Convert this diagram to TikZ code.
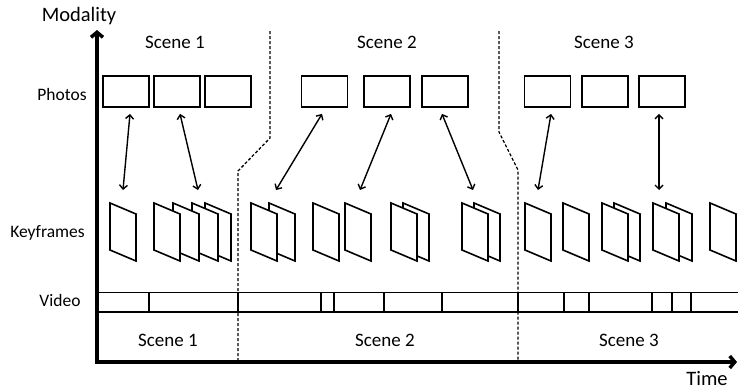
\documentclass[tikz,border=0pt]{standalone}
\usepackage{fontspec}
\setmainfont{Carlito}
\usetikzlibrary{arrows.meta}
\newcommand\keyfr[2]{\draw[kf] (#1,203) -- ++(26,11) -- ++(0,47) -- ++(-26,-11) -- cycle; \coordinate (#2) at (#1,203);}
\begin{document}
\begin{tikzpicture}[x=1pt,y=-1pt,
  photo/.style={draw,line width=1.8pt,minimum width=46pt,minimum height=31pt,inner sep=0pt},
  lbl/.style={inner sep=0pt,anchor=base,font=\fontsize{19}{22}\selectfont},
  axlbl/.style={inner sep=0pt,anchor=base,font=\fontsize{20.5}{23}\selectfont},
  rowlbl/.style={inner sep=0pt,anchor=base,font=\fontsize{17.5}{20}\selectfont},
  kf/.style={draw,fill=white,line width=1.6pt,line join=miter},
  link/.style={line width=1.4pt,{Straight Barb[length=4pt,width=8pt]}-{Straight Barb[length=4pt,width=8pt]}},
  axisline/.style={line width=3.5pt,line join=miter,{Straight Barb[length=5pt,width=12pt]}-{Straight Barb[length=5pt,width=12pt]}},
  divider/.style={line width=1.3pt,dash pattern=on 3pt off 2pt},
  vline/.style={line width=1.2pt}
]
\useasboundingbox (0,0) rectangle (739,389);

% dividers
\draw[divider] (270,31) -- (270,138) -- (238,171) -- (238,362);
\draw[divider] (499,31) -- (499,132) -- (518,170) -- (518,362);

% labels
\node[axlbl] (modality) at (79,21) {Modality};
\node[axlbl] (time) at (707,385) {Time};
\node[lbl] (s1t) at (175,48) {Scene 1};
\node[lbl] (s2t) at (387,48) {Scene 2};
\node[lbl] (s3t) at (604,48) {Scene 3};
\node[lbl] (s1b) at (168,346) {Scene 1};
\node[lbl] (s2b) at (385,346) {Scene 2};
\node[lbl] (s3b) at (629,346) {Scene 3};
\node[rowlbl] (lphotos) at (62,100) {Photos};
\node[rowlbl] (lkey) at (47.5,237.5) {Keyframes};
\node[rowlbl] (lvideo) at (60,306.5) {Video};

% photos
\node[photo] (p1) at (126,91.5) {};
\node[photo] (p2) at (177,91.5) {};
\node[photo] (p3) at (228,91.5) {};
\node[photo] (p4) at (324.5,91.5) {};
\node[photo] (p5) at (387,91.5) {};
\node[photo] (p6) at (445,91.5) {};
\node[photo] (p7) at (547.5,91.5) {};
\node[photo] (p8) at (605,91.5) {};
\node[photo] (p9) at (662,91.5) {};

% keyframes (back to front)
\keyfr{110}{k1}
\keyfr{205}{k5}
\keyfr{192}{k4}
\keyfr{173}{k3}
\keyfr{154}{k2}
\keyfr{269}{k7}
\keyfr{251}{k6}
\keyfr{313}{k8}
\keyfr{345}{k9}
\keyfr{403}{k11}
\keyfr{391}{k10}
\keyfr{474}{k13}
\keyfr{462}{k12}
\keyfr{525}{k14}
\keyfr{563}{k15}
\keyfr{614}{k17}
\keyfr{602}{k16}
\keyfr{666}{k19}
\keyfr{653}{k18}
\keyfr{710}{k20}

% arrow bottom ends
\coordinate (b1) at (123,190);
\coordinate (b2) at (198,190);
\coordinate (b3) at (276,190);
\coordinate (b4) at (360,190);
\coordinate (b5) at (473,190);
\coordinate (b6) at (538,190);
\coordinate (b7) at (659,190);

\draw[link] ([xshift=4pt,yshift=-6pt]p1.south) -- (b1);
\draw[link] ([xshift=3pt,yshift=-6pt]p2.south) -- (b2);
\draw[link] ([xshift=-2.5pt,yshift=-6pt]p4.south) -- (b3);
\draw[link] ([xshift=4pt,yshift=-6pt]p5.south) -- (b4);
\draw[link] ([xshift=-3pt,yshift=-6pt]p6.south) -- (b5);
\draw[link] ([xshift=3.5pt,yshift=-6pt]p7.south) -- (b6);
\draw[link] ([xshift=-3pt,yshift=-6pt]p9.south) -- (b7);

% video row
\draw[line width=1pt] (97,292) -- (738,292);
\draw[line width=2pt] (97,312) -- (738,312);
\foreach \x in {149,238,321,334,384,442,518,564,589,652,672,691}
  \draw[vline] (\x,292) -- (\x,312);

% axes
\draw[axisline] (97,30) -- (97,362) -- (737,362);
\end{tikzpicture}
\end{document}
